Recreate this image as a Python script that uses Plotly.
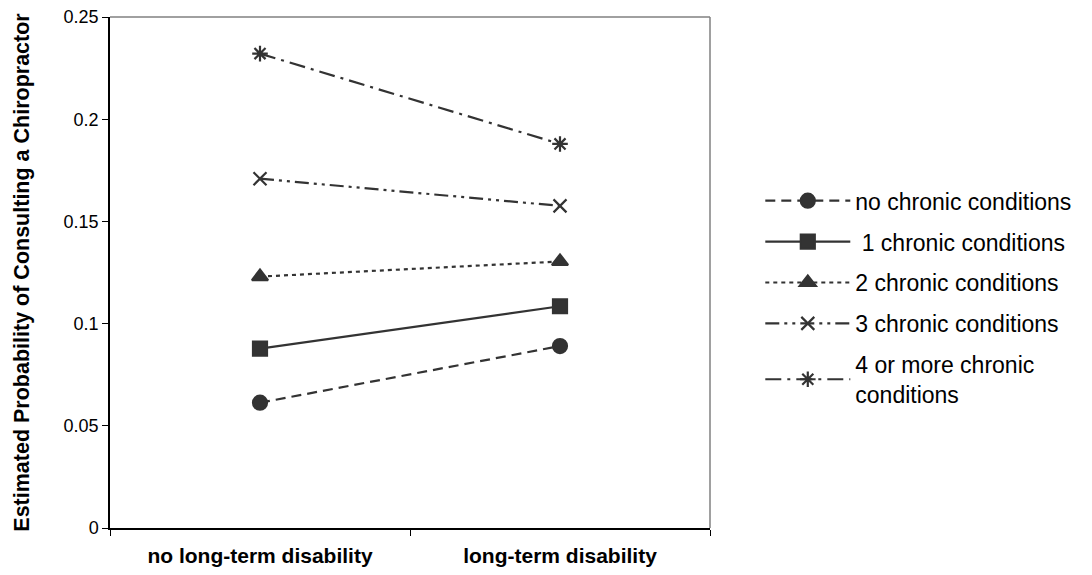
import plotly.graph_objects as go

categories = ["no long-term disability", "long-term disability"]
series_names = ["no chronic conditions", " 1 chronic conditions", "2 chronic conditions",
                "3 chronic conditions", "4 or more chronic<br>conditions"]
v_none = [0.0613, 0.089]
v_one = [0.0878, 0.1085]
v_two = [0.123, 0.1304]
v_three = [0.1709, 0.1576]
v_four = [0.2321, 0.1879]
y_ticks = [0, 0.05, 0.1, 0.15, 0.2, 0.25]
y_ticklabels = ["0", "0.05", "0.1", "0.15", "0.2", "0.25"]

values = [v_none, v_one, v_two, v_three, v_four]
dashes = ["10px,6px", "solid", "4px,4px", "14px,5px,3px,5px,3px,5px", "16px,6px,3px,6px"]
symbols = ["circle", "square", "triangle-up", "x-thin-open", "asterisk-open"]
sizes = [14, 14, 14, 13, 13]
col = "#333333"

fig = go.Figure()
for i, (name, vals) in enumerate(zip(series_names, values)):
    fig.add_trace(go.Scatter(
        x=categories, y=vals, name=name, mode="lines+markers",
        legendgroup=f"g{i}",
        line=dict(color=col, width=2.2, dash=dashes[i]),
        marker=dict(symbol=symbols[i], size=sizes[i], color=col,
                    line=dict(color=col, width=2.2)),
    ))

# page has an 8px body margin, so the figure is sized/offset to compensate
fig.update_layout(
    width=1084, height=567,
    margin=dict(l=102, r=382, t=9, b=47, autoexpand=False),
    paper_bgcolor="white", plot_bgcolor="white",
    font=dict(family="Liberation Sans, Arial, sans-serif", size=18, color="black"),
    showlegend=True,
    legend=dict(xref="container", yref="container", x=0.694, y=0.489, xanchor="left", yanchor="middle",
                font=dict(size=23), tracegroupgap=8, itemwidth=85, bgcolor="rgba(0,0,0,0)"),
)
fig.update_xaxes(
    type="category", tickson="boundaries", ticks="outside", ticklen=6, automargin=False,
    tickcolor="black", showline=True, linecolor="black", linewidth=1.5, mirror=False,
    showgrid=False, tickfont=dict(size=21, family="Liberation Sans, Arial", weight="bold"),
    range=[-0.5, 1.5], ticklabelstandoff=8,
)
fig.update_yaxes(
    range=[0, 0.25], tickvals=y_ticks, ticktext=y_ticklabels, ticks="outside", ticklen=6,
    automargin=False, ticklabeloverflow="allow",
    tickcolor="black", showline=True, linecolor="black", linewidth=1.5, showgrid=False,
    zeroline=False, tickfont=dict(size=18),
    title=dict(text="<b>Estimated Probability of Consulting a Chiropractor</b>",
               font=dict(size=21.5), standoff=28),
)
# gray box on top and right
fig.add_shape(type="line", xref="paper", yref="paper", x0=0, x1=1, y0=1, y1=1,
              line=dict(color="#808080", width=1.5))
fig.add_shape(type="line", xref="paper", yref="paper", x0=1, x1=1, y0=0, y1=1,
              line=dict(color="#808080", width=1.5))

fig.write_html("out.html")
